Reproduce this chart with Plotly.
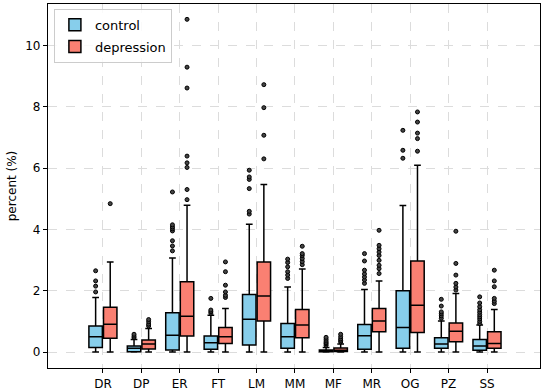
import plotly.graph_objects as go

categories = ["DR", "DP", "ER", "FT", "LM", "MM", "MF", "MR", "OG", "PZ", "SS"]

# control group box statistics (percent)
ctrl_q1 = [0.15, 0.01, 0.07, 0.09, 0.23, 0.12, 0.01, 0.09, 0.12, 0.12, 0.06]
ctrl_med = [0.50, 0.12, 0.55, 0.30, 1.07, 0.50, 0.03, 0.53, 0.80, 0.26, 0.20]
ctrl_q3 = [0.85, 0.20, 1.28, 0.52, 1.88, 0.93, 0.07, 0.90, 2.00, 0.47, 0.41]
ctrl_lo = [0.0, 0.0, 0.0, 0.0, 0.0, 0.0, 0.0, 0.0, 0.0, 0.0, 0.0]
ctrl_hi = [1.78, 0.41, 3.07, 1.20, 4.17, 2.12, 0.15, 2.04, 4.78, 1.01, 0.88]
ctrl_out = [
    [1.96, 2.15, 2.32, 2.65],
    [0.47, 0.52, 0.58],
    [3.30, 3.46, 3.63, 3.95, 4.02, 4.08, 4.15, 5.22],
    [1.27, 1.32, 1.37, 1.75],
    [4.50, 4.59, 5.33, 5.63, 5.71, 5.93],
    [2.40, 2.51, 2.62, 2.78, 2.92, 3.03],
    [0.22, 0.27, 0.31, 0.36, 0.42, 0.48],
    [2.24, 2.35, 2.45, 2.55, 2.67, 2.97, 3.21],
    [6.32, 6.58, 7.23],
    [1.10, 1.18, 1.25, 1.31, 1.50, 1.72],
    [0.93, 1.00, 1.08, 1.15, 1.22, 1.30, 1.38, 1.48, 1.60, 1.80],
]

# depression group box statistics (percent)
dep_q1 = [0.45, 0.10, 0.52, 0.28, 1.01, 0.47, 0.02, 0.66, 0.64, 0.34, 0.12]
dep_med = [0.91, 0.26, 1.17, 0.50, 1.83, 0.88, 0.06, 1.01, 1.53, 0.68, 0.28]
dep_q3 = [1.46, 0.39, 2.29, 0.80, 2.94, 1.39, 0.13, 1.42, 2.97, 0.95, 0.66]
dep_lo = [0.0, 0.0, 0.0, 0.0, 0.0, 0.0, 0.0, 0.0, 0.0, 0.0, 0.0]
dep_hi = [2.94, 0.77, 4.79, 1.42, 5.46, 2.71, 0.26, 2.32, 6.09, 1.91, 1.39]
dep_out = [
    [4.84],
    [0.85, 0.91, 0.99, 1.06],
    [4.97, 5.30, 6.02, 6.17, 6.39, 8.61, 9.29, 10.85],
    [1.78, 1.85, 1.96, 2.18, 2.62, 2.94],
    [6.30, 7.07, 7.97, 8.72],
    [2.85, 2.95, 3.05, 3.15, 3.21, 3.45],
    [0.33, 0.38, 0.43, 0.50, 0.58],
    [2.56, 2.72, 2.83, 2.99, 3.15, 3.26, 3.37, 3.48, 3.97],
    [6.55, 6.96, 7.14, 7.50, 7.83],
    [2.02, 2.12, 2.24, 2.51, 2.89, 3.94],
    [1.58, 1.66, 1.75, 2.13, 2.32, 2.67],
]

CTRL_COLOR = "#87CEEB"
DEP_COLOR = "#FA8072"
OFFSET = 0.19
BOX_W = 0.35

pos = list(range(len(categories)))
ctrl_x = [p - OFFSET for p in pos]
dep_x = [p + OFFSET for p in pos]

fig = go.Figure()

def add_group(name, xs, q1, med, q3, lo, hi, outs, color):
    fig.add_trace(go.Box(
        name=name, x=xs, q1=q1, median=med, q3=q3,
        lowerfence=lo, upperfence=hi, width=BOX_W,
        fillcolor=color, line=dict(color="black", width=1.5),
        whiskerwidth=0.5, boxpoints=False, legendgroup=name,
        showlegend=True,
    ))
    ox, oy = [], []
    for x, vals in zip(xs, outs):
        for v in vals:
            ox.append(x)
            oy.append(v)
    fig.add_trace(go.Scatter(
        x=ox, y=oy, mode="markers", legendgroup=name, showlegend=False,
        marker=dict(symbol="circle", size=4, color="#444444",
                    line=dict(color="black", width=1)),
        hoverinfo="y",
    ))

add_group("control", ctrl_x, ctrl_q1, ctrl_med, ctrl_q3, ctrl_lo, ctrl_hi, ctrl_out, CTRL_COLOR)
add_group("depression", dep_x, dep_q1, dep_med, dep_q3, dep_lo, dep_hi, dep_out, DEP_COLOR)

axis_common = dict(
    showline=True, linecolor="black", linewidth=1.2, mirror=True,
    ticks="outside", ticklen=4, tickcolor="black",
    showgrid=True, gridcolor="#dcdcdc", griddash="dash", gridwidth=1,
    zeroline=False, tickfont=dict(size=12, color="black"),
    automargin=False,
)

fig.update_layout(
    width=546, height=391,
    margin=dict(l=48, r=6, t=4, b=23),
    paper_bgcolor="white", plot_bgcolor="white",
    font=dict(family="DejaVu Sans", size=12, color="black"),
    boxmode="overlay",
    xaxis=dict(axis_common, tickvals=pos, ticktext=categories,
               range=[-1.43, 11.38]),
    yaxis=dict(axis_common, tickvals=[0, 2, 4, 6, 8, 10],
               range=[-0.52, 11.35],
               title=dict(text="percent (%)", font=dict(size=12), standoff=6)),
    legend=dict(x=0.012, y=0.987, xanchor="left", yanchor="top",
                bgcolor="rgba(255,255,255,0.85)", bordercolor="#cccccc",
                borderwidth=1, font=dict(size=13), tracegroupgap=2,
                itemwidth=30),
    showlegend=True,
)

fig.write_html("out.html", config={"displayModeBar": False},
               post_script="document.body.style.margin='0px';")
